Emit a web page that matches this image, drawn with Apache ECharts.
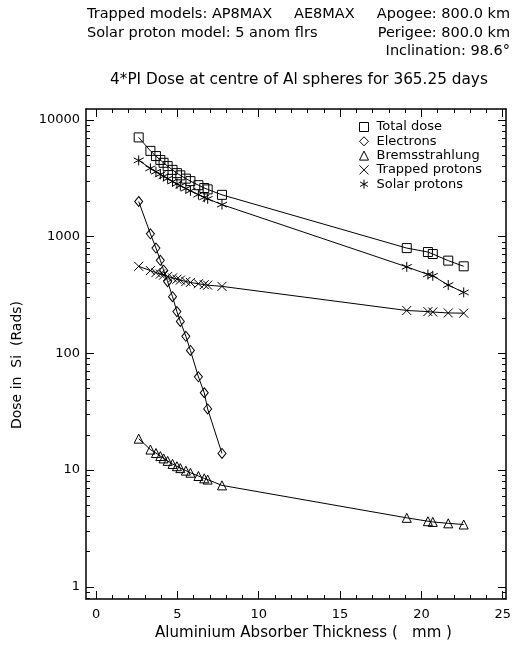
<!DOCTYPE html>
<html>
<head>
<meta charset="utf-8">
<script src="https://cdn.jsdelivr.net/npm/echarts@6/dist/echarts.min.js"></script>
<style>html,body{margin:0;padding:0;background:#fff}#c{width:514px;height:646px}</style>
</head>
<body>
<div id="c"></div>
<script>
// Aluminium absorber thickness (mm)
var thickness = [2.62, 3.34, 3.68, 3.95, 4.15, 4.40, 4.70, 4.97, 5.18, 5.52, 5.80, 6.29, 6.65, 6.86, 7.74, 19.1, 20.4, 20.7, 21.65, 22.6];
// Dose in Si (Rads)
var totalDose   = [7080, 5430, 4900, 4540, 4290, 4020, 3730, 3500, 3350, 3140, 2990, 2760, 2610, 2540, 2280, 798, 738, 710, 623, 557];
var electrons   = [2000, 1057, 798, 627, 516, 411, 306, 228, 188, 140, 106, 63, 46, 33.4, 13.9, null, null, null, null, null];
var bremsstr    = [18.6, 15.0, 14.0, 13.2, 12.6, 12.0, 11.3, 10.8, 10.4, 9.9, 9.5, 8.9, 8.5, 8.3, 7.4, 3.9, 3.65, 3.6, 3.5, 3.42];
var trappedProt = [557, 512, 492, 478, 468, 456, 443, 432, 424, 413, 405, 395, 388, 384, 375, 233, 228, 226, 222, 221];
var solarProt   = [4500, 3850, 3600, 3420, 3290, 3140, 2970, 2830, 2730, 2580, 2470, 2290, 2170, 2110, 1880, 551, 474, 462, 385, 333];

var seriesNames = ['Total dose', 'Electrons', 'Bremsstrahlung', 'Trapped protons', 'Solar protons'];
var xMajor = [0, 5, 10, 15, 20, 25];
var xMinor = [1,2,3,4,6,7,8,9,11,12,13,14,16,17,18,19,21,22,23,24];
var yMajor = [1, 10, 100, 1000, 10000];
var yMinor = [0.8,0.9,2,3,4,5,6,7,8,9,20,30,40,50,60,70,80,90,200,300,400,500,600,700,800,900,2000,3000,4000,5000,6000,7000,8000,9000];

var FONT = 'DejaVu Sans';
var XMIN = -0.62, XMAX = 25.2, YMIN = 0.787, YMAX = 12400;

var symX = 'path://M0,0L10,10M10,0L0,10';
var symStar = 'path://M5,0L5,10M0.67,2.5L9.33,7.5M9.33,2.5L0.67,7.5';
var symbols = ['rect', 'diamond', 'triangle', symX, symStar];
var sizes = [9, [8, 10], 9, 9, 10];
var values = [totalDose, electrons, bremsstr, trappedProt, solarProt];

function pairs(v) { return thickness.map(function (x, i) { return [x, v[i]]; }); }

function xAxisDef(pos, ticks, len, showLine, showLabel) {
  return {
    type: 'value', position: pos, min: XMIN, max: XMAX, gridIndex: 0,
    splitLine: { show: false },
    axisLine: { show: showLine, onZero: false, lineStyle: { color: '#000', width: 1.5 } },
    axisTick: { show: true, inside: true, length: len, customValues: ticks, lineStyle: { color: '#000', width: 1 } },
    axisLabel: { show: showLabel, customValues: ticks, margin: 9, color: '#000', fontFamily: FONT, fontSize: 13 }
  };
}
function yAxisDef(pos, ticks, len, showLine, showLabel) {
  return {
    type: 'log', logBase: 10, position: pos, min: YMIN, max: YMAX, gridIndex: 0,
    splitLine: { show: false },
    axisLine: { show: showLine, onZero: false, lineStyle: { color: '#000', width: 1.5 } },
    axisTick: { show: true, inside: true, length: len, customValues: ticks, lineStyle: { color: '#000', width: 1 } },
    axisLabel: { show: showLabel, customValues: ticks, margin: 6, color: '#000', fontFamily: FONT, fontSize: 13,
      formatter: function (v) { return String(Math.round(v)); } }
  };
}

var xAxes = [
  xAxisDef('bottom', xMajor, 8, true, true),
  xAxisDef('bottom', xMinor, 4, false, false),
  xAxisDef('top', xMajor, 8, true, false),
  xAxisDef('top', xMinor, 4, false, false)
];
xAxes[0].name = 'Aluminium Absorber Thickness (   mm )';
xAxes[0].nameLocation = 'middle';
xAxes[0].nameGap = 27;
xAxes[0].nameTextStyle = { color: '#000', fontFamily: FONT, fontSize: 15, padding: [0, 0, 0, 15] };

var yAxes = [
  yAxisDef('left', yMajor, 8, true, true),
  yAxisDef('left', yMinor, 4, false, false),
  yAxisDef('right', yMajor, 8, true, false),
  yAxisDef('right', yMinor, 4, false, false)
];
yAxes[0].name = 'Dose in  Si  (Rads)';
yAxes[0].nameLocation = 'middle';
yAxes[0].nameGap = 62;
yAxes[0].nameTextStyle = { color: '#000', fontFamily: FONT, fontSize: 14, padding: [0, 22, 0, 0] };

var series = seriesNames.map(function (n, k) {
  return {
    name: n, type: 'line', xAxisIndex: 0, yAxisIndex: 0,
    data: pairs(values[k]),
    symbol: symbols[k], symbolSize: sizes[k], showSymbol: true,
    connectNulls: false,
    lineStyle: { color: '#000', width: 1 },
    itemStyle: { color: 'transparent', borderColor: '#000', borderWidth: 1 },
    emphasis: { disabled: true },
    silent: true
  };
});

var tStyle = { color: '#000', fontFamily: FONT, fontSize: 14.5, fontWeight: 'normal' };
var tStyle2 = { color: '#000', fontFamily: FONT, fontSize: 15.3, fontWeight: 'normal' };
var chart = echarts.init(document.getElementById('c'), null, { renderer: 'canvas' });
chart.setOption({
  backgroundColor: '#fff',
  animation: false,
  title: [
    { text: 'Trapped models: AP8MAX', left: 87, top: 7, padding: 0, textStyle: tStyle },
    { text: 'AE8MAX', left: 294, top: 7, padding: 0, textStyle: tStyle },
    { text: 'Apogee: 800.0 km', right: 4, top: 7, padding: 0, textStyle: tStyle },
    { text: 'Solar proton model: 5 anom flrs', left: 87, top: 26, padding: 0, textStyle: tStyle },
    { text: 'Perigee: 800.0 km', right: 4, top: 26, padding: 0, textStyle: tStyle },
    { text: 'Inclination: 98.6°', right: 4, top: 44, padding: 0, textStyle: tStyle },
    { text: '4*PI Dose at centre of Al spheres for 365.25 days', left: 110, top: 73, padding: 0, textStyle: tStyle2 }
  ],
  legend: {
    orient: 'vertical', left: 359, top: 120, padding: 0,
    itemWidth: 9, itemHeight: 9, itemGap: 0.3,
    selectedMode: false,
    data: seriesNames.map(function (n, k) { return { name: n, icon: symbols[k] }; }),
    itemStyle: { color: 'transparent', borderColor: '#000', borderWidth: 1 },
    textStyle: { color: '#000', fontFamily: FONT, fontSize: 13, lineHeight: 14, padding: [0, 0, 0, 3] }
  },
  grid: { left: 86, right: 7, top: 109, bottom: 42, containLabel: false },
  xAxis: xAxes,
  yAxis: yAxes,
  series: series
});
</script>
</body>
</html>
